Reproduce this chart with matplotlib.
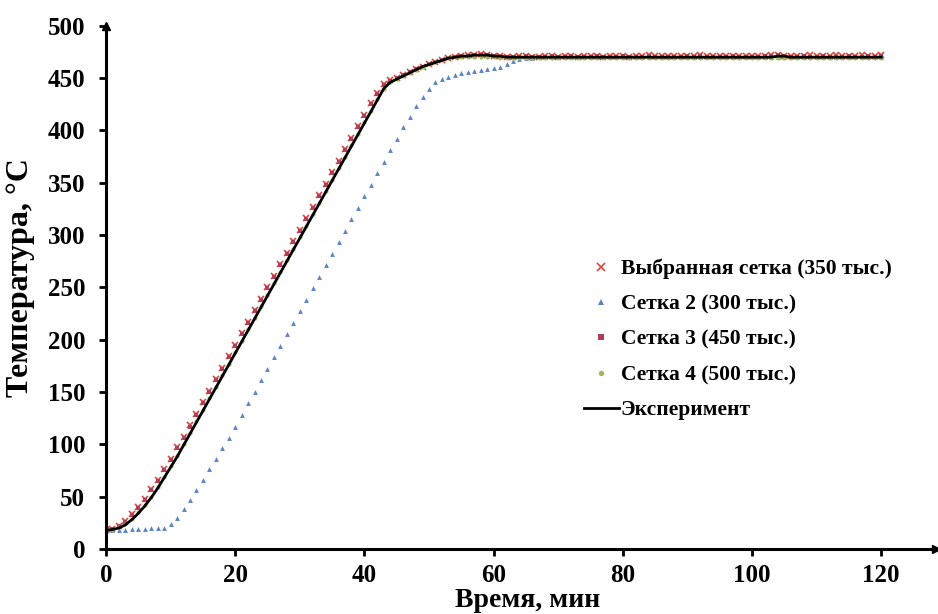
import numpy as np
import matplotlib.pyplot as plt

plt.rcParams['font.family'] = ['Liberation Serif', 'DejaVu Serif']
plt.rcParams['font.weight'] = 'bold'
plt.rcParams['axes.labelweight'] = 'bold'

# Time, min (1-minute samples)
time_min = np.arange(0, 121)

# Experiment (black line)
exp_temp = [18, 18.5, 20, 23, 28, 34, 41, 49, 58, 68,
            78, 88, 99, 110, 121, 132, 143, 154, 165, 176,
            187, 198, 209, 220, 231, 242, 253, 264, 275, 286,
            297, 308, 319, 330, 341, 352, 363, 374, 385, 396,
            407, 418, 429, 440, 446, 449, 452, 455, 458, 461,
            463, 465, 467, 469, 470, 471, 471, 472, 472, 472,
            471, 471, 470, 470, 470, 470, 470, 470, 470, 470,
            470, 470, 470, 470, 470, 470, 470, 470, 470, 470,
            470, 470, 470, 470, 470, 470, 470, 470, 470, 470,
            470, 470, 470, 470, 470, 470, 470, 470, 470, 470,
            470, 470, 470, 470, 471, 471, 470, 470, 470, 470,
            470, 470, 470, 470, 470, 470, 470, 470, 470, 470, 470]

# Selected mesh (350k)
sel_temp = [18, 19, 22, 27, 33, 40, 48, 57, 66, 76,
            86, 97, 107, 118, 129, 140, 151, 162, 173, 184,
            195, 206, 217, 228, 239, 250, 261, 272, 283, 294,
            305, 316, 327, 338, 349, 360, 371, 382, 393, 404,
            415, 426, 436, 444, 448, 450, 453, 456, 459, 461,
            463, 465, 467, 469, 470, 471, 472, 472, 473, 472,
            471, 471, 470, 470, 471, 471, 470, 470, 471, 471,
            470, 471, 471, 470, 471, 471, 471, 470, 471, 471,
            471, 470, 471, 471, 472, 471, 471, 471, 471, 471,
            471, 471, 472, 471, 471, 471, 471, 471, 471, 471,
            471, 471, 471, 472, 472, 471, 471, 471, 471, 472,
            471, 471, 471, 472, 471, 471, 471, 472, 471, 471, 472]

# Mesh 2 (300k)
m2_temp = [18, 18, 18, 18, 19, 19, 19, 20, 20, 20,
           24, 30, 38, 47, 56, 66, 76, 86, 96, 106,
           117, 128, 139, 150, 161, 172, 183, 194, 205, 216,
           227, 238, 249, 260, 271, 282, 293, 304, 315, 326,
           337, 348, 359, 370, 381, 392, 403, 413, 423, 432,
           440, 446, 449, 451, 453, 455, 456, 457, 458, 459,
           460, 461, 463, 466, 468, 469, 469, 470, 470, 470,
           470, 470, 470, 470, 470, 470, 470, 470, 470, 470,
           470, 470, 470, 470, 470, 470, 470, 470, 470, 470,
           470, 470, 470, 470, 470, 470, 470, 470, 470, 470,
           470, 470, 470, 470, 470, 470, 470, 470, 470, 470,
           470, 470, 470, 470, 470, 470, 470, 470, 470, 470, 470]

# Mesh 3 (450k)
m3_temp = [18, 19, 22, 26, 32, 39, 47, 56, 65, 75,
           85, 96, 106, 117, 128, 139, 150, 161, 172, 183,
           194, 205, 216, 227, 238, 249, 260, 271, 282, 293,
           304, 315, 326, 337, 348, 359, 370, 381, 392, 403,
           414, 425, 435, 443, 447, 450, 453, 456, 459, 461,
           463, 465, 467, 469, 470, 471, 471, 472, 472, 472,
           471, 470, 470, 470, 470, 471, 470, 470, 470, 471,
           470, 470, 471, 470, 470, 470, 471, 470, 470, 470,
           471, 470, 470, 470, 471, 470, 470, 470, 470, 470,
           471, 470, 471, 470, 470, 470, 470, 471, 470, 470,
           470, 470, 471, 471, 472, 471, 470, 470, 471, 470,
           470, 471, 470, 470, 470, 471, 470, 470, 471, 470, 471]

# Mesh 4 (500k)
m4_temp = [18, 18.5, 21, 24, 29, 35, 42, 50, 59, 69,
           79, 89, 100, 111, 122, 133, 144, 155, 166, 177,
           188, 199, 210, 221, 232, 243, 254, 265, 276, 287,
           298, 309, 320, 331, 342, 353, 364, 375, 386, 397,
           408, 419, 430, 440, 446, 449, 452, 455, 458, 461,
           463, 465, 467, 469, 470, 470, 470, 470, 470, 470,
           470, 469, 469, 469, 469, 469, 469, 469, 469, 469,
           469, 469, 469, 469, 469, 469, 469, 469, 469, 469,
           469, 469, 469, 469, 469, 469, 469, 469, 469, 469,
           469, 469, 469, 469, 469, 469, 469, 469, 469, 469,
           469, 469, 469, 469, 469, 469, 469, 469, 469, 469,
           469, 469, 469, 469, 469, 469, 469, 469, 469, 469, 469]

fig = plt.figure(figsize=(9.38, 6.14), dpi=100)
ax = fig.add_axes([0.113, 0.106, 0.885, 0.852])

ax.plot(time_min, sel_temp, 'x', color='#e0443c', ms=4, mew=1.2, label='Выбранная сетка (350 тыс.)')
ax.plot(time_min, m2_temp, '^', color='#5b84c4', ms=3.5, mew=0, label='Сетка 2 (300 тыс.)')
ax.plot(time_min, m3_temp, 's', color='#b0405a', ms=3, mew=0, label='Сетка 3 (450 тыс.)')
ax.plot(time_min, m4_temp, 'o', color='#9bbb59', ms=3, mew=0, label='Сетка 4 (500 тыс.)')
ax.plot(time_min, exp_temp, '-', color='black', lw=2, label='Эксперимент')

ax.set_xlim(0, 128.5)
ax.set_ylim(0, 500)
ax.set_xticks(range(0, 121, 20))
ax.set_yticks(range(0, 501, 50))

for s in ['top', 'right']:
    ax.spines[s].set_visible(False)
for s in ['left', 'bottom']:
    ax.spines[s].set_linewidth(2.2)
ax.tick_params(direction='out', length=5, width=2, labelsize=18)
ax.tick_params(axis='y', pad=10)
ax.tick_params(axis='x', pad=6)

# axis arrows
ax.plot(1, 0, '>k', ms=6, transform=ax.transAxes, clip_on=False)
ax.plot(0, 1, '^k', ms=6, transform=ax.transAxes, clip_on=False)

ax.set_xlabel('Время, мин', fontsize=20, va='top')
ax.xaxis.set_label_coords(0.508, -0.074)
ax.set_ylabel('Температура, °С', fontsize=23)
ax.yaxis.set_label_coords(-0.086, 0.518)

ax.legend(loc='upper left', bbox_to_anchor=(0.576, 0.555), frameon=False,
          fontsize=15.5, numpoints=1, handlelength=1.6, handletextpad=0.1,
          labelspacing=0.71, borderpad=0, borderaxespad=0, markerscale=1.3)

fig.savefig('out.png', dpi=100)
